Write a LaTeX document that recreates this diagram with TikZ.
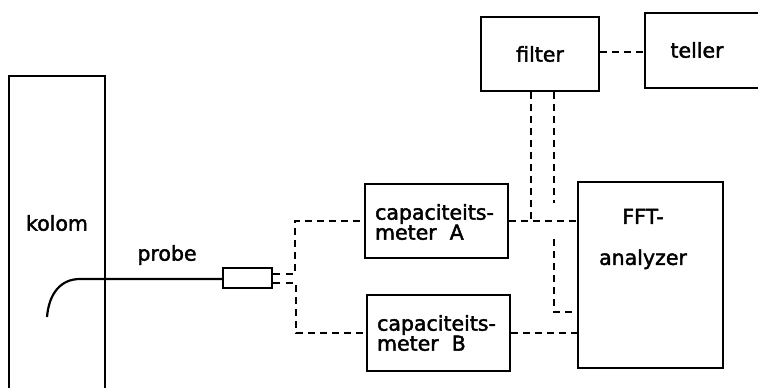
\documentclass[tikz,border=0pt]{standalone}
\usepackage{fontspec}
\setmainfont{DejaVu Sans}[FakeBold=2]
\usetikzlibrary{calc}
\begin{document}
\begin{tikzpicture}[x=1pt,y=-1pt,
  every node/.style={font=\fontsize{20.5}{20}\selectfont},
  unit/.style={draw,line width=2.4pt,inner sep=0pt},
  lbl/.style={inner sep=0pt,align=left},
  wire/.style={line width=2.2pt},
  sig/.style={line width=2.2pt,dash pattern=on 7pt off 5pt}]
\useasboundingbox (0,0) rectangle (758,388);

% column, open at the bottom edge
\node[unit,minimum width=96,minimum height=324] (kolom) at (57,238) {};
\node[lbl] (kolomlbl) at (57,223) {kolom};

% probe with its plug
\node[unit,minimum width=49,minimum height=20] (plug) at (247.5,278) {};
\node[lbl] (probelbl) at (167,255) {probe};
\coordinate (tip) at (47,317);
\coordinate (bend) at (80,279);
\draw[wire] (tip) .. controls (49,293) and (61,279) .. (bend) -- (plug.west |- bend);
\coordinate (pinA) at ($(plug.east)+(7,-4)$);
\coordinate (pinB) at ($(plug.east)+(7,5)$);
\draw[wire] ($(plug.east)+(0,-4)$) -- (pinA);
\draw[wire] ($(plug.east)+(0,5)$) -- (pinB);
\coordinate (jackA) at ($(pinA)+(6,0)$);
\coordinate (jackB) at ($(pinB)+(6,0)$);

% instruments
\node[unit,minimum width=143,minimum height=74] (capA) at (436.5,221) {};
\node[lbl] (capAlbl) at (434.5,222) {capaciteits-\\meter\ \ A};
\node[unit,minimum width=143,minimum height=76] (capB) at (438.5,333) {};
\node[lbl] (capBlbl) at (436.5,333) {capaciteits-\\meter\ \ B};
\node[unit,minimum width=145,minimum height=186] (fft) at (650.5,275) {};
\node[lbl,align=center] (fftlbl) at (643,239) {FFT-\\[21pt]analyzer};
\node[unit,minimum width=118,minimum height=74] (filter) at (540,54) {filter};
\node[unit,minimum width=135,minimum height=75] (teller) at (712.5,50.5) {};
\node[lbl] (tellerlbl) at (697,50) {teller};

% cable ends at the filter
\coordinate (fout) at ($(filter.east)+(0,-2)$);
\coordinate (fdownA) at ($(filter.south)+(-9,0)$);
\coordinate (fdownB) at ($(filter.south)+(14,0)$);
\coordinate (hopA) at ($(filter.south)+(14,111)$);
\coordinate (hopB) at ($(filter.south)+(14,147)$);
\coordinate (fftin) at ($(fft.west)+(0,37)$);

% signal cables
\draw[sig] (jackA) -- ($(jackA)+(9,0)$) |- (capA.west);
\draw[sig] (jackB) -- ($(jackB)+(10,0)$) |- (capB.west);
\draw[sig] (capA.east) -- (capA.east -| fft.west);
\draw[sig] (capB.east) -- (capB.east -| fft.west);
\draw[sig] (fout) -- (fout -| teller.west);
\draw[sig] (fdownA) -- (fdownA |- capA.east);
% the second filter cable hops over the line from meter A
\draw[sig] (fdownB) -- (hopA);
\draw[sig] (hopB) |- (fftin);
\end{tikzpicture}
\end{document}
